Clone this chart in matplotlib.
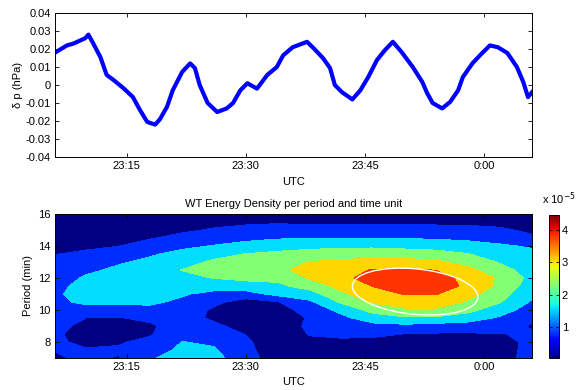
import numpy as np
import matplotlib
matplotlib.use('Agg')
import matplotlib.pyplot as plt
from matplotlib.patches import Ellipse
from matplotlib.colors import Normalize
from matplotlib.cm import ScalarMappable

plt.rcParams['font.family'] = ['Liberation Sans', 'DejaVu Sans']
plt.rcParams['font.size'] = 8

# pressure perturbation, minutes after 23:00
t_series = [6.0, 7.5, 8.3, 9.8, 10.2, 10.7, 11.7, 12.5, 13.3, 14.6, 15.8, 16.7, 17.6,
            18.6, 19.2, 20.1, 20.8, 22.0, 23.0, 23.6, 24.2, 25.2, 26.4, 27.6, 28.4,
            29.3, 30.2, 31.4, 32.7, 33.9, 34.7, 35.9, 37.7, 38.5, 39.7, 40.6, 41.2,
            42.1, 43.4, 44.4, 45.4, 46.5, 47.5, 48.5, 49.6, 51.0, 52.2, 52.8, 53.5,
            54.7, 55.7, 56.7, 57.3, 58.5, 59.5, 60.7, 61.7, 62.9, 64.1, 64.9, 65.5, 66.0]
dp = [0.018, 0.022, 0.023, 0.026, 0.028, 0.024, 0.0156, 0.0056, 0.003, -0.0017, -0.0067,
      -0.014, -0.0205, -0.022, -0.019, -0.012, -0.003, 0.0073, 0.012, 0.0094, 0.0, -0.01,
      -0.015, -0.013, -0.010, -0.003, 0.001, -0.002, 0.0056, 0.01, 0.0165, 0.021, 0.024,
      0.0206, 0.015, 0.0094, 0.0, -0.004, -0.008, -0.003, 0.0044, 0.0139, 0.0194, 0.024,
      0.0183, 0.010, 0.0017, -0.0044, -0.01, -0.013, -0.0094, -0.003, 0.0044, 0.012,
      0.0167, 0.022, 0.021, 0.0178, 0.010, 0.0017, -0.0067, -0.004]

time_ticks = [15, 30, 45, 60]
time_labels = ['23:15', '23:30', '23:45', '0:00']

# wavelet energy density (x 1e-5); one list per time, periods 7..16 step 0.5
wt_times = [6, 10, 14, 18, 22, 26, 30, 34, 38, 42, 46, 50, 54, 58, 62, 66]
periods = [7.0, 7.5, 8.0, 8.5, 9.0, 9.5, 10.0, 10.5, 11.0, 11.5, 12.0, 12.5, 13.0,
           13.5, 14.0, 14.5, 15.0, 15.5, 16.0]
energy_by_time = [
    [0.73, 0.82, 0.88, 0.95, 1.06, 1.21, 1.36, 1.44, 1.42, 1.33, 1.21, 1.06, 0.91, 0.79, 0.71, 0.61, 0.50, 0.39, 0.28],
    [0.91, 0.84, 0.69, 0.39, 0.55, 0.79, 1.34, 1.66, 1.90, 1.82, 1.65, 1.42, 1.15, 0.87, 0.73, 0.61, 0.50, 0.39, 0.28],
    [0.76, 0.88, 0.74, 0.43, 0.48, 0.77, 1.33, 1.66, 1.83, 2.00, 1.84, 1.68, 1.48, 1.12, 0.79, 0.67, 0.54, 0.43, 0.31],
    [1.48, 1.21, 0.96, 0.74, 0.70, 0.94, 1.38, 1.66, 1.84, 2.01, 2.05, 1.87, 1.69, 1.48, 1.09, 0.76, 0.62, 0.49, 0.35],
    [1.85, 1.70, 1.57, 1.36, 1.18, 1.06, 1.24, 1.42, 1.62, 1.87, 2.13, 2.32, 2.01, 1.73, 1.41, 0.98, 0.70, 0.55, 0.39],
    [1.78, 1.63, 1.44, 1.18, 0.93, 0.69, 0.68, 0.97, 1.37, 1.83, 2.32, 2.62, 2.43, 2.04, 1.59, 1.22, 0.86, 0.63, 0.43],
    [1.10, 1.00, 0.94, 0.77, 0.56, 0.36, 0.39, 0.50, 1.25, 2.00, 2.47, 2.80, 2.62, 2.32, 1.81, 1.36, 0.99, 0.69, 0.46],
    [0.43, 0.35, 0.28, 0.24, 0.22, 0.20, 0.46, 0.76, 1.77, 2.14, 2.50, 2.84, 2.78, 2.45, 2.01, 1.48, 1.07, 0.73, 0.50],
    [0.28, 0.47, 0.66, 0.84, 0.99, 0.89, 1.12, 1.42, 1.97, 2.63, 3.12, 3.35, 3.07, 2.59, 2.08, 1.51, 1.09, 0.65, 0.50],
    [0.28, 0.49, 0.70, 0.91, 1.15, 1.38, 1.73, 2.41, 2.92, 3.28, 3.60, 3.52, 3.19, 2.72, 2.15, 1.54, 1.10, 0.65, 0.50],
    [0.28, 0.46, 0.66, 0.91, 1.33, 1.91, 2.58, 3.13, 3.49, 3.83, 4.10, 3.85, 3.33, 2.75, 2.15, 1.54, 1.10, 0.65, 0.50],
    [0.28, 0.45, 0.62, 0.79, 1.37, 2.19, 2.94, 3.43, 3.84, 4.10, 4.15, 3.90, 3.35, 2.68, 2.07, 1.51, 1.06, 0.65, 0.50],
    [0.35, 0.48, 0.61, 0.74, 1.24, 2.18, 2.94, 3.43, 3.83, 4.03, 3.99, 3.78, 3.17, 2.58, 2.00, 1.46, 1.05, 0.65, 0.50],
    [0.39, 0.50, 0.61, 0.73, 1.19, 1.91, 2.51, 2.96, 3.30, 3.70, 3.65, 3.25, 2.77, 2.32, 1.84, 1.39, 1.00, 0.65, 0.50],
    [0.65, 0.61, 0.65, 0.79, 1.12, 1.44, 1.89, 2.35, 2.59, 2.84, 2.91, 2.57, 2.24, 1.94, 1.64, 1.28, 0.90, 0.61, 0.46],
    [0.95, 0.95, 0.91, 0.84, 0.74, 0.94, 1.20, 1.46, 1.73, 1.93, 2.08, 1.96, 1.85, 1.72, 1.48, 0.91, 0.67, 0.54, 0.43],
]
levels = [0.05, 0.8, 1.55, 2.3, 3.05, 3.8, 4.45]
cbar_min, cbar_max = 0.05, 4.45
cbar_ticks = [1, 2, 3, 4]

# significance contour (ellipse): centre time, centre period, width, height, tilt
sig_t, sig_p, sig_w, sig_h, sig_angle = 51.3, 11.15, 15.8, 2.85, -2.5

fig = plt.figure(figsize=(5.87, 3.90), dpi=100)

# top panel
ax1 = fig.add_axes([0.0937, 0.5974, 0.8126, 0.3692])
ax1.plot(t_series, dp, color=(0, 0, 1), lw=3.0)
ax1.set_xlim(6, 66)
ax1.set_ylim(-0.04, 0.04)
ax1.set_yticks(np.arange(-0.04, 0.041, 0.01))
ax1.set_yticklabels(['-0.04', '-0.03', '-0.02', '-0.01', '0', '0.01', '0.02', '0.03', '0.04'])
ax1.set_xticks(time_ticks)
ax1.set_xticklabels(time_labels)
ax1.set_xlabel('UTC')
ax1.xaxis.set_label_coords(0.5, -0.14)
ax1.set_ylabel(u'\u03b4 p (hPa)', labelpad=2)

# bottom panel
ax2 = fig.add_axes([0.0937, 0.0821, 0.8126, 0.3692])
Z = np.array(energy_by_time).T
norm = Normalize(cbar_min, cbar_max)
band_colors = [plt.cm.jet(norm(v)) for v in levels[:-1]]
ax2.contourf(wt_times, periods, Z, levels=levels, colors=band_colors, extend='both')
ax2.add_patch(Ellipse((sig_t, sig_p), sig_w, sig_h, angle=sig_angle,
                      fill=False, ec='white', lw=1.0))
ax2.set_xlim(6, 66)
ax2.set_ylim(7, 16)
ax2.set_yticks([8, 10, 12, 14, 16])
ax2.set_xticks(time_ticks)
ax2.set_xticklabels(time_labels)
ax2.set_xlabel('UTC')
ax2.xaxis.set_label_coords(0.5, -0.13)
ax2.set_ylabel('Period (min)', labelpad=4)
ax2.set_title('WT Energy Density per period and time unit', fontsize=8, pad=5)

for ax in (ax1, ax2):
    ax.tick_params(direction='in', top=True, right=True, length=3, width=0.6, pad=3)
    for s in ax.spines.values():
        s.set_linewidth(0.7)

cax = fig.add_axes([0.9353, 0.0821, 0.017, 0.3667])
cb = fig.colorbar(ScalarMappable(norm=norm, cmap='jet'), cax=cax, ticks=cbar_ticks)
cb.ax.tick_params(direction='in', left=True, right=True, length=2, width=0.6, pad=2)
cb.outline.set_linewidth(0.7)
fig.text(0.952, 0.468, r'x 10$^{-5}$', fontsize=8, ha='center', va='bottom')

fig.savefig('out.png', dpi=100)
